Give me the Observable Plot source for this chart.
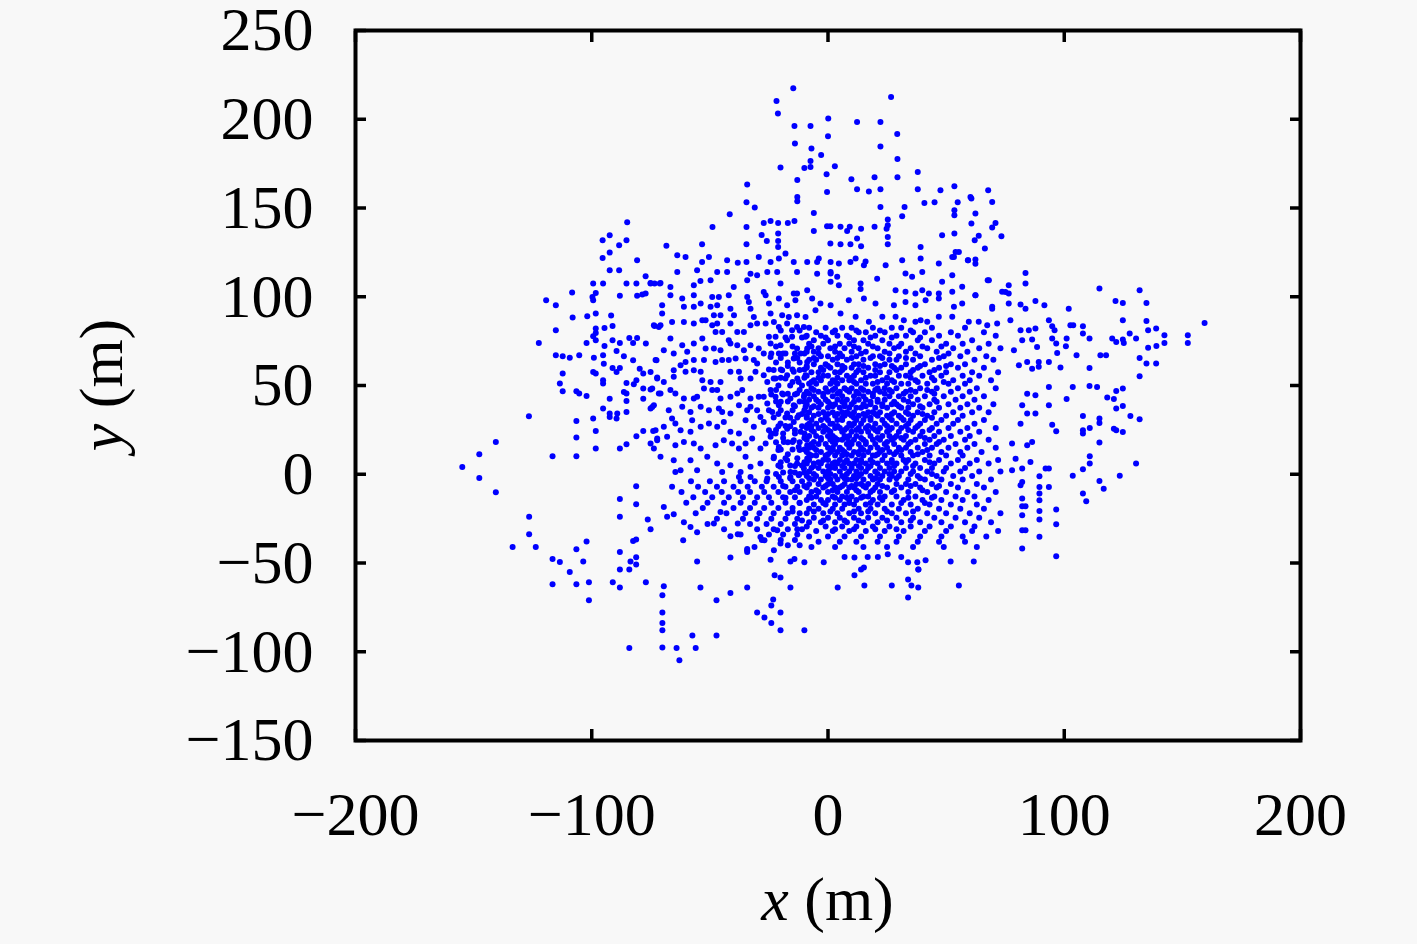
<!DOCTYPE html>
<html><head><meta charset="utf-8">
<script src="https://cdn.jsdelivr.net/npm/d3@7"></script>
<script src="https://cdn.jsdelivr.net/npm/@observablehq/plot@0.6"></script>
<style>
html,body{margin:0;padding:0;background:#f8f8f8;}
#chart{width:1417px;height:944px;}
</style></head><body><div id="chart"></div>
<script>
const xTicks = [-200, -100, 0, 100, 200];
const yTicks = [-150, -100, -50, 0, 50, 100, 150, 200, 250];
const xDomain = [-200, 200];
const yDomain = [-150, 250];
const xLabel = ["x", " (m)"];
const yLabel = ["y", " (m)"];

const topPoints = [[-14.7,217.5],[-21.8,210.3],[-21.2,203.2],[26.7,212.6],[-14.2,196.2],[-7.4,196.2],[0.1,200.4],[0,190.4],[12.3,198.5],[22.2,198.5],[29.3,191.7],[-14,186.3],[-7,183.5],[-2.9,179.9],[-7.4,176.5],[-7.4,173.1],[-10,172.6],[-20.1,172.8],[2.9,173.5],[-0.6,169],[22.2,184.6],[29.4,177.6],[29.4,167.3],[19.7,167.3],[9.9,166.2],[-13,165.8],[-34.2,163.2],[38,170.3],[-0.4,159],[12.3,160.6],[17.3,159.3],[22.2,160.6],[38,160.6],[47.6,160],[53.5,162.3],[-13,156.2],[-13,153.8],[-34.5,153.2],[-31,150.3],[-41.6,146.5],[-6,147.2],[22.2,150.6],[32.4,150.6],[40.8,152.8],[45.1,153.2],[54.9,153.2],[53.5,148.7],[53.5,145.9],[31.4,145.4],[25.3,143.5],[-48.9,139.3],[-34.5,139.3],[-27.2,141.6],[-24.3,142.7],[-21.1,141.6],[-17,141.6],[-14.2,142.7],[-6,137.1],[-0.4,139.7],[1,139.7],[5.3,139.4],[9.2,139.4],[14,138.3],[19.7,139.4],[24.8,138.3],[25.3,140.3],[53.5,135.6],[48.3,134.6],[-68.4,128.8],[-53.3,129.6],[-34.5,129.6],[-28.1,134.8],[-25.9,131.4],[-21.1,135.6],[-21.1,131.4],[-21.1,128],[8.1,137],[12.3,132.8],[9.5,129.6],[14,128.5],[5.3,129.6],[1,130],[25.3,133.7],[25.3,129.6],[39.2,128],[54,125.2],[55.4,125.2],[59.2,120.6],[60.3,156.2],
[-85,142],[-92.4,134.6],[-95.4,131.8],[-88.4,129],[-85.3,131.8],[-92.4,124.9],[-95.4,121.9],[-80.8,120.6],[-92.4,114.9],[-88.4,114.9],[-77.2,111.5],
[67.8,160],[60.7,155.3],[69.5,153.4],[62.4,146.9],[60.7,141.2],[70.9,141.6],[69.5,139],[73.4,134.1],[63.8,134.3],[62.1,131.8],[66.4,127.2],[52.6,122.4],[59.3,120.6],[62.4,121]];

const leftPoints = [[-99.4,107.4],[-95.2,107.4],[-85.3,107.4],[-81.1,107.4],[-75.1,107.4],[-73.4,107.4],[-71.2,107.4],[-98.3,102.1],[-99.7,99.9],[-88.1,100.5],[-80.8,100.5],[-78.6,101.2],[-77.2,101.8],[-108.3,102.4],[-119.3,98],[-115.2,95.2],[-99.4,98],[-98.3,90.5],[-101.9,89],[-108.1,88.3],[-91.8,89.4],[-91.2,83.5],[-98.3,82.1],[-98.3,79.6],[-94.6,82.4],[-115.2,81.1],[-73.4,83.5],[-71.6,83],[-122.4,74],[-102.2,74],[-99.4,77.7],[-98.3,75.5],[-94.6,72.3],[-91.2,75.5],[-88.1,74],[-84.1,76.8],[-82.5,74],[-80.8,76.8],[-77.1,73.6],[-89.5,69.5],[-115.2,67],[-112.3,66.5],[-109.3,65.7],[-105.3,67],[-99.1,65.7],[-95.2,67],[-86.4,66.5],[-82.5,64.2],[-72.6,64.2],[-94.9,62.3],[-91.2,59.9],[-89.5,57.6],[-88.1,59.9],[-79.7,59.5],[-78.2,56.7],[-75.1,57.6],[-72.3,54.5],[-99.4,57.6],[-98.3,56.7],[-112.3,56.7],[-113.5,51.1],[-112.3,46.8],[-106.5,46.8],[-105.3,45.5],[-102.2,44.1],[-95.2,53],[-95.2,51.1],[-85.3,51.4],[-82.2,50.7],[-81.1,53],[-86.4,46.4],[-85.3,45.5],[-78.2,48.3],[-75.1,47.7],[-71.6,45.5],[-92.4,42.6],[-85.3,41.3],[-78.2,42.6],[-74.4,37.9],[-75.1,37],[-95.2,37],[-92.4,34.2],[-89.2,34.2],[-89.5,31.4],[-92.4,32.3],[-85.3,35.1],[-126.6,32.7],[-106.5,30],[-99.4,31.4],[-98.3,24.4],[-106.5,20.7],[-78.2,24.4],[-74,24.4],[-81.1,21.4],[-85.3,16.9],[-88.1,14.5],[-98.3,14.5],[-75.1,17.3],[-72.3,20.1],[-73.7,14.5],[-106.5,10.1],[-116.6,10.1],[-140.6,18.2],[-147.6,11.3],[-154.8,4.1],[-147.6,-2.1],
[-140.6,-10.1],[-126.5,-24],[-126.5,-33.8],[-133.5,-41],[-123.7,-41],[-116.6,-47.7],[-113.5,-49.4],[-109.3,-55],[-116.6,-62],[-106.5,-62],[-101.2,-60.8],[-101.2,-71],[-106.5,-42.2],[-102.2,-37.9],[-103.6,-49.2],[-81.2,-6.8],[-81.2,-16.9],[-88.1,-13.9],[-88.1,-24],[-76.3,-25.5],[-75.1,-31],[-82.5,-37.6],[-81.2,-36.8],[-88.1,-43.8],[-83.6,-49.2],[-81.2,-46.8],[-81.2,-50.9],[-88.1,-53.7],[-84.1,-53.7],[-91.1,-60.8],[-88.1,-63.8],[-77.1,-60.8],[-84.1,-97.9]];

const rightPoints = [[83.6,113.4],[83.6,107.4],[76.5,106.5],[76.5,101.8],[75.1,102.7],[67.6,109.3],[62.4,100.8],[87.8,97.6],[91.6,95.2],[81.5,95.6],[83.6,93.3],[76.5,96.2],[69.5,93.3],[101.9,93.3],[114.9,104.6],[131.9,103.7],[121.7,97.6],[124.8,96.5],[134.8,96.5],[124.8,86.8],[134.8,86.4],[135.5,81.1],[138.9,82.1],[142.4,78.3],[142.4,74],[139,72.3],[135.5,71.2],[152.3,78.3],[152.3,74],[159.4,85.2],[127.7,79.3],[130.4,76.5],[120.3,76.5],[122,74.5],[124.8,75.9],[125.2,74],[131.9,65.5],[134.8,62.4],[138.9,62.4],[131.9,55.2],[115.3,67],[117.7,67],[110.7,59.9],[105.2,67],[98.4,60.1],[94.9,83.4],[93.5,86.8],[95.9,81.1],[94.9,76.5],[96.6,73.6],[97,68.3],[101,76.5],[100.7,72.1],[102.6,83.9],[103.8,83.9],[107.9,83.4],[107.9,79.3],[110.7,76.5],[93.5,49.2],[103.6,49.2],[110.7,49.7],[113.9,49.2],[118.2,43.2],[121,42.4],[122,46.9],[124.8,48.3],[124.8,38.5],[122,37],[128,32.8],[131.9,31],[101,42.4],[107.9,32.8],[107.9,24.8],[107.9,22.9],[110.8,26.1],[114.9,31.4],[114.9,28.9],[121,25.7],[122,24.8],[124.8,23.8],[114.9,17.9],[110.8,10.1],[110.8,6],[130.4,6],[107.9,2.8],[103.6,-0.9],[114.9,-3.8],[116.7,-8.1],[123.5,-0.9],[107.9,-10.9],[109.3,-15.2],[96.6,-19.9],[96.6,-28.2],[96.6,-46.2],[89.5,-1.1],[89.5,-7.2],[89.5,-10.9],[89.5,-14.6],[89.5,-20.7],[89.5,-25.5],[89.5,-35.2],[93.5,-7.2],[93.5,3.2],[92.1,3.2],[82.2,-4.3],[82.2,-13.7],[82.2,-18],[83.6,-18],[82.2,-23.1],[82.2,-31.5],[83.6,-31.5],[82.2,-41.9],[81.5,-6.2],
[80.8,61.4],[84.3,63.3],[86.4,59.5],[89.2,63.3],[89.2,60.5],[93.5,63.3],[84.3,45.4],[87.8,44.5],[93.5,38.9],[82.2,38.9],[84.3,34.2],[87.8,34.2],[81.5,28.5],[94.9,27.9],[96.6,24.2],[84.3,16.3],[86.4,18.2],[77.9,17.3],[79.4,8.8],[82.2,3.2],[77.9,2.3],[85.7,6.9],[77.2,86.8],[81.5,81.1],[85,81.1],[87.8,82.1],[82.2,75.5],[86.4,75.9],[88.5,71.7],[78.7,69.9]];

const bottomPoints = [[-69.5,-63.1],[-70.1,-68.2],[-70.1,-77.9],[-70.1,-83.8],[-70.1,-87.9],[-70.1,-97.6],[-64.1,-97.9],[-62.9,-104.8],[-56,-97.9],[-57.4,-90.9],[-47.2,-90.9],[-54,-63.8],[-47.2,-71],[-41.3,-66.9],[-34.2,-63.8],[-30,-77.9],[-26.9,-80.7],[-24,-83.8],[-20.1,-77.9],[-20.1,-87.9],[-23.2,-70.6],[-24,-74],[-10,-87.9],[-15.9,-63.8],[-22.6,-56.9],[-20.1,-58.2],[4.1,-63.8],[11.2,-56.9],[14,-53.7],[15.2,-52.6],[15.4,-62.7],[27,-62.7],[33.9,-59.3],[35.3,-62.7],[38.2,-63.8],[33.9,-69.5],[38.2,-53.7],[55.4,-62.7],[-55.4,-49.2],[-41.3,-46.9],[-34.2,-43.8],[-34.2,-42.1],[-24.3,-48.1],[-15.9,-49.2],[-14.2,-47.7],[-10,-49.6],[-1.8,-49.6],[7,-46.6],[11.2,-46.9],[16.8,-46.6],[21.1,-46.6],[25.3,-45.1],[31,-46.6],[33.9,-49.6],[37.8,-49.6],[41.3,-48.5],[38.3,-53.7],[51.9,-49.2],[61.7,-49.2],[-69.5,-18.4],[-68.1,-24],[-65.3,-22.5],[-61,-27],[-61.3,-37.2],[-58.2,-29.7],[-55.4,-32.7],[-48.3,-27.8],[-45.5,-21.2],[-41.3,-34.9],[-38.2,-33.8],[-38.2,-27.8],[-34.2,-42.8],[-31.1,-41],[-28.6,-35.3],[-26.9,-37.2],[-22.9,-42.8],[-21.5,-31.5],[-20.1,-39]];

const midLeftPoints = [[-66.7,100.9],[-61.7,99],[-56.8,100.9],[-49,99.9],[-46.2,99.9],[-42,100.9],[-34.2,99.9],[-33.5,97.1],[-26.4,100.9],[-20.8,99],[-17.3,95.2],[-13.8,98],[-13.1,101.8],
[-70.2,95.2],[-70.2,90.5],[-61,94.3],[-56.8,94.3],[-53.9,96.2],[-49.7,94.3],[-46.9,95.2],[-48.3,89.6],[-45.5,89.6],[-41.3,93.3],[-39.8,89.6],[-32.8,93.3],[-31.4,88.6],[-25,96.2],[-24.3,90.5],[-19.4,89.6],[-16.6,88.6],[-13.1,89.6],[-9.5,88.6],
[-73.7,84],[-70.9,84],[-66,85.8],[-61,85.8],[-56.8,84.9],[-53.2,86.8],[-51.8,86.8],[-49,84],[-46.9,84.9],[-47.6,80.2],[-44.8,80.2],[-41.3,84.9],[-38.4,80.2],[-35.6,80.2],[-32.8,84],[-30,84.9],[-26.4,84.9],[-22.9,85.8],[-20.8,83],[-17.3,84.9],[-15.2,81.1],[-13.1,83],[-10.2,83],
[-66.7,76.5],[-61.7,72.7],[-56.8,73.6],[-53.2,76.5],[-51.8,70.8],[-48.3,70.8],[-45.5,69.9],[-42,75.5],[-41.3,73.6],[-38.4,72.7],[-35.6,69.9],[-32.8,72.7],[-29.3,70.8],[-25,77.4],[-24.3,73.6],[-22.2,77.4],[-20.1,72.7],[-17.3,75.5],[-15.2,77.4],[-13.1,70.8],[-9.5,77.4],[-8.8,70.8],
[-73,64.3],[-69.5,69.9],[-65.3,68],[-62.4,61.4],[-60.3,63.3],[-56.8,64.3],[-59.6,69],[-52.5,64.3],[-47.6,63.3],[-44.8,64.3],[-42,64.3],[-39.1,65.2],[-34.9,65.2],[-31.4,64.3],[-30,62.4],[-27.2,68],[-24.3,66.1],[-20.8,68],[-18,68],[-14.5,65.2],[-11.6,68],[-8.8,63.3],
[-72.3,53.9],[-69.5,52],[-65.3,58.6],[-65.3,54.9],[-60.3,57.7],[-56.8,58.6],[-53.9,57.7],[-53.2,53],[-49.7,52],[-45.5,52],[-41.3,57.7],[-37.7,57.7],[-37,53.9],[-32.8,53.9],[-30.7,57.7],[-27.2,55.8],[-25.7,52],[-22.2,53.9],[-19.4,58.6],[-17.3,55.8],[-14.5,57.7],[-12.4,52],[-9.5,55.8],
[-74.4,48.3],[-70.9,45.5],[-66.7,47.4],[-64.6,45.5],[-61,42.7],[-56.8,42.7],[-55.4,43.6],[-52.5,48.3],[-49,47.4],[-46.9,47.4],[-45.5,42.7],[-41.3,43.6],[-38.4,45.5],[-36.3,47.4],[-32.8,42.7],[-29.3,43.6],[-27.2,43.6],[-24.3,47.4],[-22.2,43.6],[-19.4,45.5],[-15.9,42.7],[-13.1,45.5],[-10.2,43.6],
[-73.7,38.9],[-67.4,36.1],[-66,31.4],[-61.7,38],[-58.2,35.1],[-53.9,38],[-50.4,36.1],[-46.2,37],[-44.8,35.1],[-41.3,34.2],[-37.7,38.9],[-34.2,36.1],[-32.8,38],[-30,36.1],[-28.6,32.3],[-25.7,39.8],[-23.6,35.1],[-20.8,38.9],[-17.3,34.2],[-14.5,38.9],[-12.4,33.2],[-9.5,38],
[-73,24.8],[-69.5,26.7],[-64.6,28.6],[-62.4,24.8],[-58.2,23.9],[-57.5,30.4],[-53.9,26.7],[-50.4,28.6],[-46.9,26.7],[-44.1,29.5],[-41.3,23.9],[-37.7,22.9],[-34.9,30.4],[-31.4,26.7],[-27.2,29.5],[-25,24.8],[-22.2,22.9],[-20.1,28.6],[-17.3,25.7],[-14.5,29.5],[-11.6,23.9],[-8.8,27.6],
[-72.3,19.2],[-68.1,21.1],[-64.6,16.4],[-61,18.2],[-56.8,17.3],[-53.9,14.5],[-47.6,16.4],[-44.1,19.2],[-40.6,17.3],[-37.7,14.5],[-34.9,17.3],[-32.1,20.1],[-28.6,14.5],[-26.4,17.3],[-24.3,21.1],[-20.8,15.4],[-18.7,18.2],[-14.5,19.2],[-12.4,15.4],[-8.8,16.4],
[-70.9,9.8],[-65.3,7.9],[-62.4,2.3],[-58.2,7.9],[-55.4,2.3],[-51.1,9.8],[-46.9,6.1],[-44.8,1.3],[-41.3,5.1],[-37,1.3],[-34.9,9.8],[-32.8,4.2],[-28.6,6.1],[-25.7,1.3],[-22.9,9.8],[-20.1,4.2],[-17.3,7.9],[-15.9,1.3],[-13.1,6.1],[-10.2,3.2],[-8.8,8.9],[-64.6,1.3],[-37.7,-1.5],[-32.8,-1.5],[-25.7,-2.4],[-20.8,-1.5],[-15.9,-1.5],[-12.4,-0.5]];

const upperMidPoints = [[-63.8,123.4],[-60.3,122.4],[-53.3,119.6],[-50.4,122.4],[-42.7,120.6],[-38.2,119.1],[-34.5,119.6],[-29.3,122.4],[-24.3,119.6],[-20.8,121.5],[-18,124.3],[-14.5,119.6],[-8.8,119.6],[-4.6,119.6],[1.1,119.6],[4.6,118.7],[9.5,119.6],[15.2,117.7],[-75.1,107.8],[-70.9,107.8],[-63.8,114],[-55.4,114.9],[-46.9,114],[-42.7,114],[-32.8,113],[-30,112.1],[-25.7,114],[-21.5,114],[-13.1,114],[-4.6,113],[1.1,114],[3.9,111.2],[13.8,107.4],[-66.7,105.5],[-56.8,106.5],[-54,108.9],[-49.7,109.3],[-39.9,105.5],[-34.2,109.3],[-27.2,102.7],[-20.1,107.4],[-14.5,101.8],[-8.8,103.7],[1.1,108.4],
[-3.9,121.6],[11.7,121.6],[15.9,119.8],[24.4,117.8],[31.4,120.6],[32.8,113.1],[35.6,111.2],[39.2,121.5],[39.9,114],[46.9,118.7],[48.3,108.4],[52.6,112.1],[53.3,122.4],[62.4,118.6],[68.1,109.3],[1.1,113.1],[4.6,106.5],[13.8,104.4],[20.8,110.2],[28.6,103.7],[32.8,102.8],[37,101.8],[39.9,103.7],[42.7,101.8],[46.9,101.8],[52.6,102.8],[56.8,105.6],[62.4,100.9],[73.7,102.8],[-6.7,99],[-3.2,96.2],[1.1,95.2],[8.8,98],[15.2,99],[20.1,96.2],[27.9,95.2],[32.8,97.1],[37,95.2],[41.3,98],[46.9,99],[53.3,94.3],[56.8,96.2],[69.5,94.3],[-5.3,92.4],[5.3,90.6],[11.7,88.7],[17.3,85.9],[23,88.7],[28.6,88.7],[32.1,86.8],[37,85.9],[39.2,86.8],[42,85.9],[46.9,88.7],[52.6,88.7],[59.6,85.9],[63.8,85.9],[67.4,84],[71.6,84.9]];

// dense core, read row by row: [y, x values]
const coreRows = [
[82.5,[-8,-1,6,10,19,27,31,44,58]],
[80,[-5,2,13,16,24,36,41,52,66]],
[78,[-9,-3,4,8,20,29,33,47,55,71]],
[75.5,[-6,0,11,15,23,38,44,61]],
[73.5,[-8,-2,5,9,17,26,31,50,57,68]],
[71,[-4,1,7,13,21,28,35,42,53,64,73]],
[69,[-9,-6,3,10,16,24,33,46,59]],
[66.5,[-3,0,6,12,19,22,30,39,49,56,67]],
[64.5,[-8,-5,2,8,15,26,29,36,44,62,70]],
[62,[-6,-1,4,11,13,20,24,33,41,52,58]],
[60,[-9,-3,1,7,10,17,28,31,38,47,55,66]],
[57.5,[-7,-4,3,5,12,15,22,26,35,43,50,61,72]],
[55.5,[-9,-2,0,8,11,18,20,30,33,40,48,57,64]],
[53,[-6,-3,2,6,9,14,23,27,37,45,53,60,69]],
[51,[-8,-5,1,4,12,16,19,25,31,34,42,51,58]],
[48.5,[-7,-1,3,7,10,14,21,24,29,39,46,55,63,71]],
[46.5,[-9,-4,0,5,9,12,17,22,27,33,37,44,52,60]],
[44,[-6,-2,2,6,11,15,19,26,30,35,41,49,57,66]],
[42,[-8,-5,-1,4,8,13,16,21,24,32,38,45,54,62]],
[39.5,[-9,-3,1,3,7,10,15,18,23,27,29,36,43,51,59,70]],
[37.5,[-7,-4,0,5,9,12,14,20,25,31,34,40,47,56,64]],
[35,[-8,-2,2,6,8,11,17,19,22,28,33,38,45,53,61,68]],
[33,[-9,-6,-1,3,7,10,13,16,21,25,30,36,42,50,57]],
[30.5,[-7,-3,0,4,6,12,15,18,23,27,32,35,41,48,55,66]],
[28.5,[-8,-5,1,2,9,11,14,20,24,29,34,39,46,53,62]],
[26,[-9,-4,-1,3,5,8,13,16,19,22,27,31,37,44,51,59,71]],
[24,[-6,-2,1,6,10,14,17,21,25,30,36,40,47,56,64]],
[21.5,[-8,-5,0,2,7,9,12,18,23,26,29,33,39,45,52,60]],
[19.5,[-9,-3,1,4,6,11,15,19,22,27,32,37,43,49,58,68]],
[17,[-7,-4,-1,3,8,10,13,16,20,24,28,34,41,46,54,62]],
[15,[-8,-6,0,2,5,9,14,18,21,25,30,33,38,44,51,59,71]],
[12.5,[-9,-3,1,4,7,11,13,17,22,26,29,35,40,48,56,65]],
[10.5,[-7,-5,-1,3,6,10,15,19,20,24,31,36,43,50,57]],
[8,[-8,-2,0,5,8,12,14,18,23,27,32,34,41,47,55,63,72]],
[6,[-9,-6,-3,2,4,9,11,16,21,25,29,37,45,52,60,68]],
[3.5,[-7,-4,1,3,7,10,14,17,22,26,33,39,44,50,58]],
[1.5,[-8,-2,0,5,9,12,16,20,24,28,31,36,42,49,56,64,73]],
[-1,[-9,-5,-1,3,6,11,13,18,23,27,30,38,46,53,61]],
[-3,[-6,-3,1,4,8,10,15,19,22,26,34,41,48,57,69]],
[-5.5,[-8,-4,0,2,7,12,14,17,21,29,33,37,44,52,63]],
[-7.5,[-9,-2,3,5,9,11,16,20,25,31,39,46,55,66]],
[-10,[-7,-4,0,4,8,13,18,22,27,34,42,50,59,71]],
[-12.5,[-8,-5,2,6,10,15,17,24,29,37,45,54,62]],
[-14.5,[-9,-3,0,5,9,12,19,23,32,40,48,57,68]],
[-17,[-6,-1,3,7,11,16,21,27,35,43,52,63]],
[-19.5,[-8,-4,2,6,13,18,24,30,38,47,56,66]],
[-22,[-9,-2,4,9,14,20,27,33,42,50,60,73]],
[-24.5,[-6,0,5,11,17,23,29,36,45,54,64]],
[-27,[-8,-3,3,8,15,21,31,39,48,58,69]],
[-29.5,[-9,-1,6,12,19,26,35,43,52,62]],
[-32,[-5,2,9,16,24,32,41,50,61,72]],
[-35,[-8,0,7,14,22,30,39,48,57,67]],
[-38,[-4,5,12,21,29,38,47,58]],
[-41,[-7,3,15,25,36,49,63]]
];

// extra dots in the most crowded middle of the cloud
const coreExtraRows = [
[81,[-20,-12,3,12,22,35]],
[77,[-18,-11,-1,9,18,27,39]],
[72,[-22,-15,-7,3,11,19,30,40,48]],
[68,[-4,5,14,26,37,51]],
[65.5,[-20,-13,-6,4,10,18,23,33,47]],
[61,[-17,-9,0,6,15,22,27,39,50]],
[58.8,[-23,-12,-2,6,13,20,29,36,45]],
[54.3,[-20,-10,-4,4,10,16,25,35,44]],
[52,[-15,-7,3,11,21,28,38,49]],
[47.5,[-22,-12,-6,2,8,15,20,26,35,42]],
[45.3,[-17,-8,-2,4,13,19,24,32,45]],
[40.8,[-20,-10,-4,0,6,11,18,21,28,34,46]],
[38.3,[-14,-6,2,7,16,23,30,39]],
[34,[-21,-11,-4,0,4,9,15,20,27,34,40]],
[31.8,[-16,-9,-1,6,11,18,26,31,44]],
[27.2,[-18,-7,-2,4,10,17,25,33,38]],
[25,[-22,-14,-7,0,7,12,20,26,34,43]],
[20.4,[-19,-10,-3,3,8,14,21,28,31,41]],
[18.2,[-15,-6,2,9,16,25,35,47]],
[13.7,[-21,-12,-5,2,6,15,23,31,42]],
[11.3,[-17,-8,0,8,13,21,28,38]],
[6.8,[-20,-10,-4,3,7,14,19,27,33,43]],
[4.7,[-14,-6,0,6,13,18,28,36]],
[0.2,[-22,-12,-6,1,8,14,21,26,35,44]],
[-2.2,[-16,-8,0,7,12,20,29,39]],
[-6.6,[-19,-10,-1,6,10,15,23,35,47]],
[-9,[-14,-5,2,12,19,28,40]],
[-13.3,[-18,-7,3,8,14,22,34,44]],
[-16.2,[-12,-2,9,18,31,41]],
[-21,[-15,-6,1,11,17,25,36]],
[-26,[-11,-2,7,13,25,35]],
[-31,[-13,3,11,20,29]]
];

const coreLeftRows = [
[68,[-24,-19,-14,-10]],[63,[-22,-17,-12]],[59,[-25,-20,-15,-10]],[54,[-23,-18,-13]],
[50,[-21,-16,-11]],[45,[-24,-19,-14,-10]],[41,[-22,-17,-12]],[36,[-25,-20,-15,-10]],
[32,[-23,-18,-13]],[27,[-21,-16,-11]],[23,[-24,-19,-14,-10]],[18,[-22,-17,-12]],
[14,[-20,-15,-10]],[9,[-23,-18,-13]],[5,[-21,-16,-11]],[1,[-19,-14,-10]],
[-4,[-58,-50,-44,-37,-31,-26,-20,-15,-11]],
[-7,[-66,-55,-47,-40,-34,-28,-23,-18,-13]],
[-10,[-62,-52,-45,-38,-33,-27,-21,-16,-12]],
[-13,[-57,-49,-42,-36,-30,-25,-19,-14]],
[-16,[-60,-51,-44,-37,-31,-24,-18,-12]],
[-19,[-53,-40,-33,-27,-21,-15]],
[-22,[-56,-43,-35,-29,-23,-17,-12]],
[-25,[-47,-36,-30,-24,-18,-13]],
[-28,[-51,-33,-26,-20,-14]],
[-31,[-44,-30,-23,-17,-11]],
[-34,[-37,-25,-19,-13]],
[-37,[-28,-20,-14]],
[-40,[-17,-12]]
];

const fromRows = rows => rows.flatMap(([y, xs]) => xs.map(x => [x, y]));
const points = [...topPoints, ...leftPoints, ...rightPoints, ...bottomPoints,
  ...midLeftPoints, ...upperMidPoints, ...fromRows(coreRows), ...fromRows(coreExtraRows), ...fromRows(coreLeftRows)]
  .map(([x, y]) => ({x, y}));

const W = 1417, H = 944, mL = 355, mR = 117, mT = 30, mB = 204;
const FONT = "'Liberation Serif', 'DejaVu Serif', serif";

const chart = Plot.plot({
  width: W, height: H,
  marginLeft: mL, marginRight: mR, marginTop: mT, marginBottom: mB,
  style: {background: "#f8f8f8", fontFamily: FONT, fontSize: "62px", color: "#000", overflow: "visible"},
  x: {domain: xDomain},
  y: {domain: yDomain},
  marks: [
    Plot.dot(points, {x: "x", y: "y", r: 3, fill: "#0000ff", stroke: null}),
    Plot.axisX(xTicks, {anchor: "bottom", tickSize: -11, tickPadding: 61, strokeWidth: 3.5, label: null, fontSize: 62}),
    Plot.axisX(xTicks, {anchor: "top", tickSize: -11, strokeWidth: 3.5, tickFormat: () => "", label: null}),
    Plot.axisY(yTicks, {anchor: "left", tickSize: -11, tickPadding: 53, strokeWidth: 3.5, label: null, fontSize: 62}),
    Plot.axisY(yTicks, {anchor: "right", tickSize: -11, strokeWidth: 3.5, tickFormat: () => "", label: null}),
    Plot.frame({stroke: "#000", strokeWidth: 4})
  ]
});
document.getElementById("chart").appendChild(chart);

const svg = d3.select(chart);
const cx = (mL + W - mR) / 2, cy = (mT + H - mB) / 2;
const xl = svg.append("text").attr("x", cx).attr("y", 920).attr("text-anchor", "middle")
  .attr("font-family", FONT).attr("font-size", 62).attr("fill", "#000");
xl.append("tspan").attr("font-style", "italic").text(xLabel[0]);
xl.append("tspan").text(xLabel[1]);
const yl = svg.append("text").attr("transform", `translate(122,${cy}) rotate(-90)`).attr("text-anchor", "middle")
  .attr("font-family", FONT).attr("font-size", 62).attr("fill", "#000");
yl.append("tspan").attr("font-style", "italic").text(yLabel[0]);
yl.append("tspan").text(yLabel[1]);
</script>
</body></html>
